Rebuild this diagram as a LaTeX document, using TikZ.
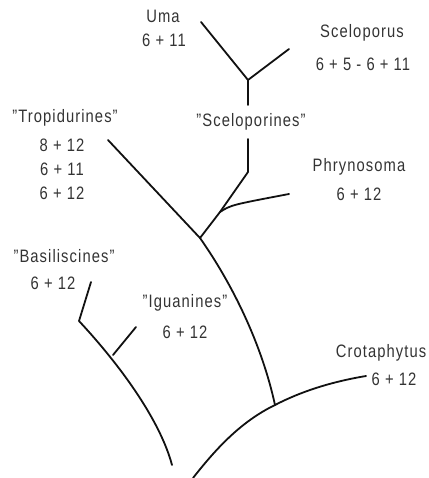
\documentclass[tikz,border=0pt]{standalone}
\usepackage{fontspec}
\setsansfont[LetterSpace=6, FakeStretch=0.82]{Liberation Sans}
\usepackage{xcolor}
\usepackage{tikz}
\usetikzlibrary{positioning}
\definecolor{ink}{HTML}{111111}
\definecolor{txt}{HTML}{333333}

\begin{document}
\begin{tikzpicture}[x=1pt, y=-1pt,
    taxon/.style={font=\sffamily\fontsize{18}{20}\selectfont, text=txt,
                  inner sep=0pt, anchor=center},
    br/.style={line width=1.8pt, draw=ink, line cap=round, line join=round}]

  \useasboundingbox (0,0) rectangle (428,478);

  % branch points and tips
  \coordinate (umaT)   at (201,22);
  \coordinate (scelT)  at (289,49);
  \coordinate (scelJ)  at (248,80);
  \coordinate (scelS)  at (248,105);
  \coordinate (scelB)  at (248,139);
  \coordinate (scelK)  at (248,172);
  \coordinate (phryJ)  at (220,212);
  \coordinate (phryT)  at (289,194);
  \coordinate (tropT)  at (108,140);
  \coordinate (tropJ)  at (200,238);
  \coordinate (crotJ)  at (275,405);
  \coordinate (crotT)  at (366,376);
  \coordinate (root)   at (193,478);
  \coordinate (basT)   at (91,282);
  \coordinate (basJ)   at (79,321);
  \coordinate (iguJ)   at (113,355);
  \coordinate (iguT)   at (136,327);
  \coordinate (leftE)  at (172,465);

  % labels
  \node[taxon] (uma)    at (163,16)  {Uma};
  \node[taxon] (umaN)   at (164,40)  {6 + 11};
  \node[taxon] (scel)   at (362,33)  {Sceloporus};
  \node[taxon] (scelN)  at (363,64)  {6 + 5 - 6 + 11};
  \node[taxon] (scgrp)  at (251,122) {"Sceloporines"};
  \node[taxon] (phry)   at (359,167) {Phrynosoma};
  \node[taxon] (phryN)  at (359,194) {6 + 12};
  \node[taxon] (trop)   at (65,118)  {"Tropidurines"};
  \node[taxon] (tropA)  at (62,145)  {8 + 12};
  \node[taxon] (tropB)  at (62,169)  {6 + 11};
  \node[taxon] (tropC)  at (62,193)  {6 + 12};
  \node[taxon] (bas)    at (64,256)  {"Basiliscines"};
  \node[taxon] (basN)   at (53,283)  {6 + 12};
  \node[taxon] (igu)    at (185,303) {"Iguanines"};
  \node[taxon] (iguN)   at (185,332) {6 + 12};
  \node[taxon] (crot)   at (381,353) {Crotaphytus};
  \node[taxon] (crotN)  at (394,379) {6 + 12};

  % branches
  \draw[br] (umaT) -- (scelJ) -- (scelT);
  \draw[br] (scelJ) -- (scelS);
  \draw[br] (scelB) -- (scelK) -- (phryJ) -- (tropJ);
  \draw[br] (phryJ) .. controls (231,205) .. (phryT);
  \draw[br] (tropT) -- (tropJ) .. controls (233,285) and (262,345) .. (crotJ);
  \draw[br] (root) .. controls (215,450) and (240,422) .. (crotJ)
                   .. controls (300,392) and (330,382) .. (crotT);
  \draw[br] (basT) -- (basJ) .. controls (120,365) and (160,420) .. (leftE);
  \draw[br] (iguJ) -- (iguT);
\end{tikzpicture}
\end{document}
